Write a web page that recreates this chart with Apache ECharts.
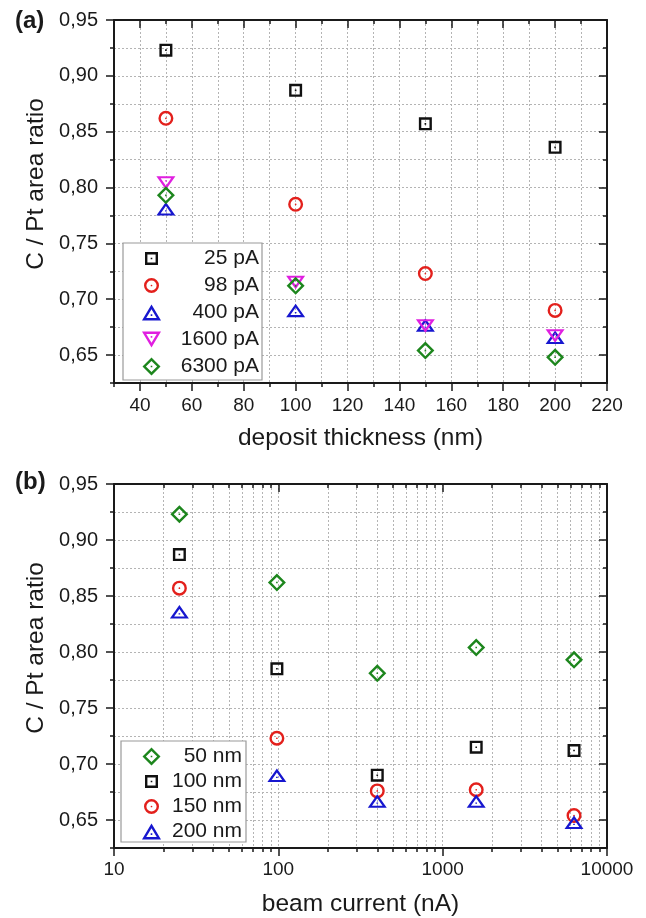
<!DOCTYPE html>
<html><head><meta charset="utf-8">
<script src="https://cdn.jsdelivr.net/npm/echarts@6/dist/echarts.min.js"></script>
<style>html,body{margin:0;padding:0;background:#fff}#c{width:646px;height:918px}</style>
</head><body><div id="c"></div>
<script>
// ---------- data (panel a) ----------
const thickness = [50, 100, 150, 200];
const currentNames = ['25 pA', '98 pA', '400 pA', '1600 pA', '6300 pA'];
const ratio25pA = [0.923, 0.887, 0.857, 0.836];
const ratio98pA = [0.862, 0.785, 0.723, 0.690];
const ratio400pA = [0.781, 0.690, 0.677, 0.666];
const ratio1600pA = [0.804, 0.715, 0.676, 0.667];
const ratio6300pA = [0.793, 0.712, 0.654, 0.648];
// ---------- data (panel b) ----------
const beamCurrent = [25, 98, 400, 1600, 6300];
const thicknessNames = ['50 nm', '100 nm', '150 nm', '200 nm'];
const ratio50nm = [0.923, 0.862, 0.781, 0.804, 0.793];
const ratio100nm = [0.887, 0.785, 0.690, 0.715, 0.712];
const ratio150nm = [0.857, 0.723, 0.676, 0.677, 0.654];
const ratio200nm = [0.836, 0.690, 0.667, 0.667, 0.648];
// ---------- ticks ----------
const xTicksA = [40, 60, 80, 100, 120, 140, 160, 180, 200, 220];
const yTicks = [0.65, 0.70, 0.75, 0.80, 0.85, 0.90, 0.95];
const xTicksB = [10, 100, 1000, 10000];
const xMinorB = [20, 30, 40, 50, 60, 70, 80, 90, 200, 300, 400, 500, 600, 700, 800, 900, 2000, 3000, 4000, 5000, 6000, 7000, 8000, 9000];

const FONT = '"Liberation Sans", Arial, sans-serif';
const INK = '#1a1a1a';
const C = {black: '#111111', red: '#e3201c', blue: '#1717cf', magenta: '#e01fe0', green: '#1d861d'};

const SYM = {
  square: {d: 'M0,0H13V13H0Z M2.4,2.4V10.6H10.6V2.4Z M5.7,5.7H7.3V7.3H5.7Z', size: [13, 13]},
  circle: {d: 'M0,7.5A7.5,7.5 0 0,1 15,7.5A7.5,7.5 0 0,1 0,7.5Z M2.4,7.5A5.1,5.1 0 0,0 12.6,7.5A5.1,5.1 0 0,0 2.4,7.5Z M6.65,7.5A0.85,0.85 0 0,1 8.35,7.5A0.85,0.85 0 0,1 6.65,7.5Z', size: [15, 15]},
  triangle: {d: 'M9.5,0L19,16L0,16Z M9.5,4.7L4.22,13.6L14.78,13.6Z M8.7,9.8H10.3V11.4H8.7Z', size: [19, 16]},
  triangleDown: {d: 'M9.5,16L0,0L19,0Z M9.5,11.3L14.78,2.4L4.22,2.4Z M8.7,4.6H10.3V6.2H8.7Z', size: [19, 16]},
  diamond: {d: 'M9,0L18,9L9,18L0,9Z M9,3.39L3.39,9L9,14.61L14.61,9Z M8.2,8.2H9.8V9.8H8.2Z', size: [18, 18]}
};
// legend icon: same shape padded to the legend icon box so it is drawn at its own size
const LEG_W = 19, LEG_H = 18;
function legendIcon(sym) {
  const ox = Math.max(0, (LEG_W - sym.size[0]) / 2), oy = Math.max(0, (LEG_H - sym.size[1]) / 2);
  return 'path://M' + (-ox) + ',' + (-oy) + ' M' + (sym.size[0] + ox) + ',' + (sym.size[1] + oy) + ' ' + sym.d;
}

const grids = [
  {left: 114, top: 20, width: 493, height: 363},
  {left: 114, top: 484, width: 493, height: 364}
];

const dotted = {show: true, lineStyle: {color: '#b4b4b4', width: 1, type: [2, 2]}};
const axLine = {show: true, lineStyle: {color: INK, width: 2}};
const tickStyle = {color: INK, width: 1.5};
const fmtY = v => v.toFixed(2).replace('.', ',');

function yAxesFor(g) {
  return [
    {type: 'value', gridIndex: g, position: 'left', min: 0.625, max: 0.95, interval: 0.025,
     axisLine: axLine, axisTick: {show: true, length: 4, lineStyle: tickStyle},
     axisLabel: {show: false}, splitLine: dotted},
    {type: 'value', gridIndex: g, position: 'left', min: 0.625, max: 0.95,
     axisLine: {show: false},
     axisTick: {show: true, length: 8, customValues: yTicks, lineStyle: tickStyle},
     axisLabel: {show: true, customValues: yTicks, formatter: fmtY, margin: 16, fontSize: 20, color: INK, fontFamily: FONT},
     splitLine: {show: false}},
    {type: 'value', gridIndex: g, position: 'right', min: 0.625, max: 0.95, interval: 0.025,
     axisLine: axLine, axisTick: {show: true, inside: true, length: 4, lineStyle: tickStyle},
     axisLabel: {show: false}, splitLine: {show: false}},
    {type: 'value', gridIndex: g, position: 'right', min: 0.625, max: 0.95,
     axisLine: {show: false},
     axisTick: {show: true, inside: true, length: 8, customValues: yTicks, lineStyle: tickStyle},
     axisLabel: {show: false}, splitLine: {show: false}}
  ];
}

const xAxes = [
  // panel a
  {type: 'value', gridIndex: 0, position: 'bottom', min: 30, max: 220, interval: 10,
   axisLine: axLine, axisTick: {show: true, length: 4, lineStyle: tickStyle},
   axisLabel: {show: false}, splitLine: dotted},
  {type: 'value', gridIndex: 0, position: 'bottom', min: 30, max: 220,
   axisLine: {show: false},
   axisTick: {show: true, length: 8, customValues: xTicksA, lineStyle: tickStyle},
   axisLabel: {show: true, customValues: xTicksA, margin: 13, fontSize: 19, color: INK, fontFamily: FONT},
   splitLine: {show: false},
   name: 'deposit thickness (nm)', nameLocation: 'middle', nameGap: 43,
   nameTextStyle: {fontSize: 24.5, color: INK, fontFamily: FONT}},
  {type: 'value', gridIndex: 0, position: 'top', min: 30, max: 220, interval: 10,
   axisLine: axLine, axisTick: {show: true, inside: true, length: 4, lineStyle: tickStyle},
   axisLabel: {show: false}, splitLine: {show: false}},
  {type: 'value', gridIndex: 0, position: 'top', min: 30, max: 220,
   axisLine: {show: false},
   axisTick: {show: true, inside: true, length: 8, customValues: xTicksA, lineStyle: tickStyle},
   axisLabel: {show: false}, splitLine: {show: false}},
  // panel b
  {type: 'log', logBase: 10, gridIndex: 1, position: 'bottom', min: 10, max: 10000,
   axisLine: axLine,
   axisTick: {show: true, length: 8, customValues: xTicksB, lineStyle: tickStyle},
   axisLabel: {show: true, customValues: xTicksB, formatter: v => String(Math.round(v)), margin: 12, fontSize: 19, color: INK, fontFamily: FONT},
   splitLine: dotted,
   name: 'beam current (nA)', nameLocation: 'middle', nameGap: 44,
   nameTextStyle: {fontSize: 24.5, color: INK, fontFamily: FONT}},
  {type: 'log', logBase: 10, gridIndex: 1, position: 'bottom', min: 10, max: 10000,
   axisLine: {show: false},
   axisTick: {show: true, length: 4, customValues: xMinorB, lineStyle: tickStyle},
   axisLabel: {show: false}, splitLine: dotted},
  {type: 'log', logBase: 10, gridIndex: 1, position: 'top', min: 10, max: 10000,
   axisLine: axLine, axisTick: {show: true, inside: true, length: 8, customValues: xTicksB, lineStyle: tickStyle},
   axisLabel: {show: false}, splitLine: {show: false}},
  {type: 'log', logBase: 10, gridIndex: 1, position: 'top', min: 10, max: 10000,
   axisLine: {show: false},
   axisTick: {show: true, inside: true, length: 4, customValues: xMinorB, lineStyle: tickStyle},
   axisLabel: {show: false}, splitLine: {show: false}}
];

const yAxes = yAxesFor(0).concat(yAxesFor(1));

function mk(name, xs, ys, sym, color, xi, yi) {
  return {
    type: 'scatter', name: name, xAxisIndex: xi, yAxisIndex: yi,
    data: xs.map((x, i) => [x, ys[i]]),
    symbol: 'path://' + sym.d, symbolSize: sym.size, symbolKeepAspect: true,
    itemStyle: {color: color, opacity: 1},
    emphasis: {disabled: true}, z: 3
  };
}

const symA = [SYM.square, SYM.circle, SYM.triangle, SYM.triangleDown, SYM.diamond];
const colA = [C.black, C.red, C.blue, C.magenta, C.green];
const valsA = [ratio25pA, ratio98pA, ratio400pA, ratio1600pA, ratio6300pA];
const symB = [SYM.diamond, SYM.square, SYM.circle, SYM.triangle];
const colB = [C.green, C.black, C.red, C.blue];
const valsB = [ratio50nm, ratio100nm, ratio150nm, ratio200nm];

const seriesA = currentNames.map((n, i) => mk(n, thickness, valsA[i], symA[i], colA[i], 0, 0));
const seriesB = thicknessNames.map((n, i) => mk(n, beamCurrent, valsB[i], symB[i], colB[i], 4, 4));

function legendFor(names, syms, left, top, padding, gap, textWidth) {
  return {
    data: names.map((n, i) => ({name: n, icon: legendIcon(syms[i])})),
    orient: 'vertical', left: left, top: top, padding: padding,
    itemGap: gap, itemWidth: LEG_W, itemHeight: LEG_H, selectedMode: false,
    backgroundColor: '#fff', borderColor: '#9a9a9a', borderWidth: 1.2,
    formatter: n => '{t|' + n + '}',
    textStyle: {rich: {t: {width: textWidth, align: 'right', fontSize: 21, lineHeight: 20, color: INK, fontFamily: FONT}}},
    z: 10
  };
}

const TITLE_FONT = '24.5px "Liberation Sans", Arial, sans-serif';
const chart = echarts.init(document.getElementById('c'), null, {renderer: 'canvas'});
chart.setOption({
  backgroundColor: '#fff',
  animation: false,
  grid: grids,
  xAxis: xAxes,
  yAxis: yAxes,
  legend: [
    legendFor(currentNames, symA, 123, 243, [5, 3, 3, 19], 6, 93),
    legendFor(thicknessNames, symB, 121, 741, [5, 4, 0, 21], 4, 76)
  ],
  graphic: [
    {type: 'text', left: 15, top: 9, style: {text: '(a)', font: 'bold 24px "Liberation Sans", Arial, sans-serif', fill: INK}},
    {type: 'text', left: 15, top: 470, style: {text: '(b)', font: 'bold 24px "Liberation Sans", Arial, sans-serif', fill: INK}},
    {type: 'text', x: 36, y: 184, rotation: Math.PI / 2,
     style: {text: 'C / Pt area ratio', font: TITLE_FONT, fill: INK, align: 'center', verticalAlign: 'middle'}},
    {type: 'text', x: 36, y: 648, rotation: Math.PI / 2,
     style: {text: 'C / Pt area ratio', font: TITLE_FONT, fill: INK, align: 'center', verticalAlign: 'middle'}}
  ],
  series: seriesA.concat(seriesB)
});
</script>
</body></html>
